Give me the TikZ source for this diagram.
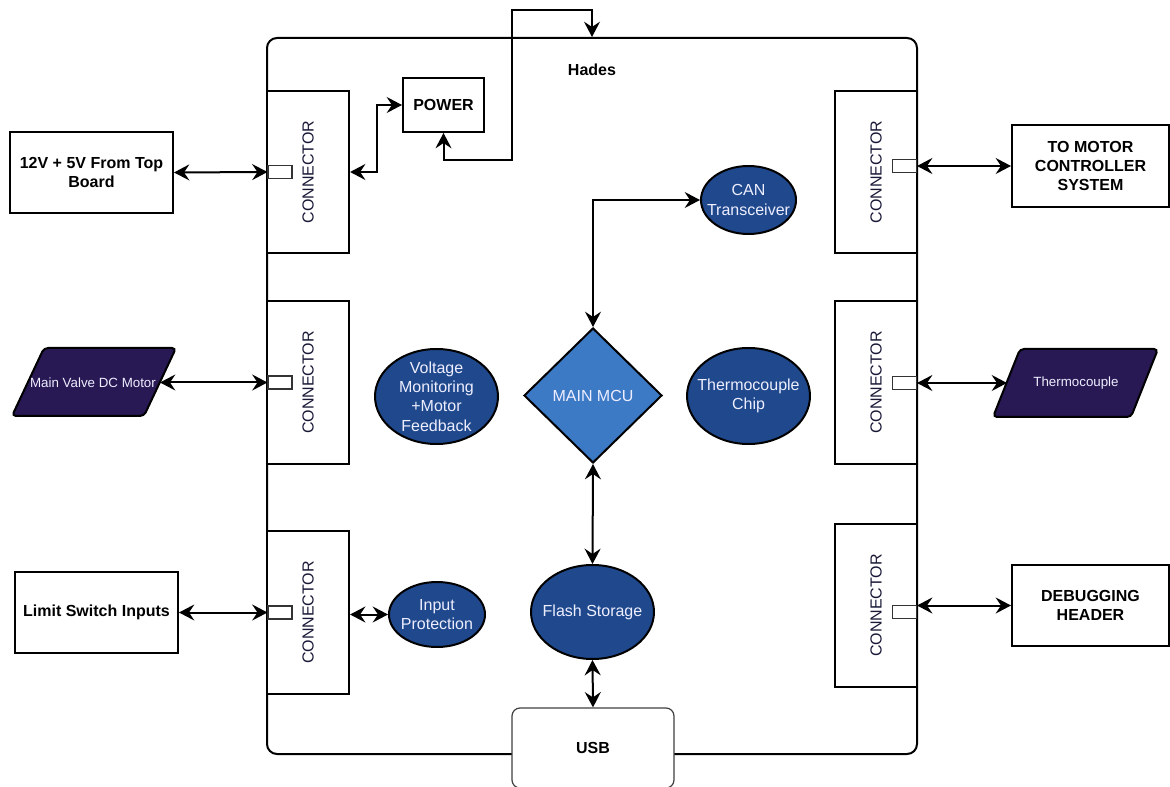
\documentclass[tikz,border=0pt]{standalone}
\usepackage{fontspec}
\setmainfont{Liberation Sans}
\usetikzlibrary{shapes.geometric,arrows.meta,calc}
\definecolor{ellblue}{RGB}{31,73,140}
\definecolor{mcublue}{RGB}{61,122,198}
\definecolor{paraviolet}{RGB}{40,24,84}
\definecolor{contxt}{RGB}{25,25,55}
\definecolor{lighttxt}{RGB}{238,238,255}
\begin{document}
\begin{tikzpicture}[x=0.75pt,y=-0.75pt,
  boardbox/.style={draw, line width=1.5pt, rounded corners=7.5pt, minimum width=487.5pt, minimum height=537pt, inner sep=0pt},
  conbox/.style={draw, fill=white, line width=1.6pt, minimum width=61.5pt, minimum height=122pt, inner sep=0pt},
  pin/.style={draw=black!80, fill=white, line width=0.8pt, minimum width=18pt, minimum height=9.75pt, inner sep=0pt},
  context/.style={rotate=90, text=contxt, font=\fontsize{12}{14}\selectfont},
  extbox/.style={draw, fill=white, line width=1.5pt, inner sep=0pt, align=center, font=\fontsize{12}{14.4}\selectfont\bfseries},
  ell/.style={ellipse, draw, line width=1.5pt, fill=ellblue, inner sep=0pt},
  elltxt/.style={text=lighttxt, align=center, font=\fontsize{12}{14.4}\selectfont},
  para/.style={draw, line width=1.5pt, fill=paraviolet, rounded corners=3pt},
  paratxt/.style={text=lighttxt, font=\fontsize{10}{12}\selectfont},
  dbl/.style={line width=1.5pt, {Stealth[length=11.5pt,width=12pt,inset=4pt]}-{Stealth[length=11.5pt,width=12pt,inset=4pt]}},
]
\useasboundingbox (0,0) rectangle (1170,787);

% board
\node[boardbox] (board) at (592,396) {};
\node[font=\fontsize{12}{14}\selectfont\bfseries] (hades) at (592,70) {Hades};

% connectors
\node[conbox] (cL1) at (308,172) {};
\node[conbox] (cL2) at (308,382.5) {};
\node[conbox] (cL3) at (308,612.5) {};
\node[conbox] (cR1) at (876,172) {};
\node[conbox] (cR2) at (876,382.5) {};
\node[conbox] (cR3) at (876,605.5) {};
\node[context] (tL1) at (cL1) {CONNECTOR};
\node[context] (tL2) at (cL2) {CONNECTOR};
\node[context] (tL3) at (cL3) {CONNECTOR};
\node[context] (tR1) at (cR1) {CONNECTOR};
\node[context] (tR2) at (cR2) {CONNECTOR};
\node[context] (tR3) at (cR3) {CONNECTOR};

% pins
\node[pin] (pL1) at (280,172) {};
\node[pin] (pL2) at (280,382.5) {};
\node[pin] (pL3) at (280,612.5) {};
\node[pin] (pR1) at (904.5,166) {};
\node[pin] (pR2) at (904.5,383) {};
\node[pin] (pR3) at (904.5,612) {};

% external boxes
\node[extbox, minimum width=122.25pt, minimum height=60.75pt] (src) at (91.5,172.5) {12V + 5V From Top\\Board};
\node[extbox, minimum width=122.25pt, minimum height=60.75pt] (limit) at (96.5,612.5) {Limit Switch Inputs};
\node[extbox, minimum width=117.75pt, minimum height=61.5pt] (motor) at (1090.5,166) {TO MOTOR\\CONTROLLER\\SYSTEM};
\node[extbox, minimum width=117.75pt, minimum height=60.75pt] (dbg) at (1090.5,605.5) {DEBUGGING\\HEADER};
\node[extbox, minimum width=60.75pt, minimum height=40.5pt] (power) at (443.5,105) {POWER};

% parallelograms
\draw[para] (44,348) -- (176,348) -- (144,416) -- (12,416) -- cycle;
\node[paratxt] (mv) at (93,382.5) {Main Valve DC Motor};
\coordinate (mvR) at (160,382.5);
\draw[para] (1020,349) -- (1158,349) -- (1131,417) -- (993,417) -- cycle;
\node[paratxt] (tc) at (1076,383) {Thermocouple};
\coordinate (tcL) at (1007,383);

% internal ellipses
\node[ell, minimum width=71.25pt, minimum height=51pt] (can) at (748.5,200) {};
\node[elltxt] (canT) at (can) {CAN\\Transceiver};
\node[ell, minimum width=92.25pt, minimum height=71.25pt] (volt) at (436.5,396.5) {};
\node[elltxt] (voltT) at (volt) {Voltage\\Monitoring\\+Motor\\Feedback};
\node[ell, minimum width=92.25pt, minimum height=72pt] (tchip) at (748.5,396) {};
\node[elltxt] (tchipT) at (tchip) {Thermocouple\\Chip};
\node[ell, minimum width=72pt, minimum height=48.75pt] (inprot) at (437,614.5) {};
\node[elltxt] (inprotT) at (inprot) {Input\\Protection};
\node[ell, minimum width=92.25pt, minimum height=70.5pt] (flash) at (592.5,612) {};
\node[elltxt] (flashT) at (flash) {Flash Storage};
\node[diamond, draw, line width=1.5pt, fill=mcublue, inner sep=0pt, minimum width=103.5pt, minimum height=101.25pt] (mcu) at (593,395.5) {};
\node[elltxt] (mcuT) at (mcu) {MAIN MCU};

% USB
\node[draw=black!75, line width=0.9pt, fill=white, rounded corners=6pt, minimum width=121.5pt, minimum height=60pt, inner sep=0pt, font=\fontsize{12}{14}\selectfont\bfseries] (usb) at (593,748) {USB};

% connectors (arrows)
\coordinate (pwA) at (512,10);
\draw[dbl] (src.east) -- (pL1.west);
\draw[dbl] (mvR) -- (pL2.west);
\draw[dbl] (limit.east) -- (pL3.west);
\draw[dbl] (pR1.east) -- (motor.west);
\draw[dbl] (pR2.east) -- (tcL);
\draw[dbl] (dbg.west -| pR3.east) -- (dbg.west);
\draw[dbl] (inprot.west -| cL3.east) -- (inprot.west);
\draw[dbl] (cL1.east) -- ++(27,0) |- (power.west);
\draw[dbl] (power.south) -- ++(0,27) -| (pwA) -| (board.north);
\draw[dbl] (mcu.north) |- (can.west);
\draw[dbl] (mcu.south) -- (flash.north);
\draw[dbl] (flash.south) -- (usb.north);
\end{tikzpicture}
\end{document}
